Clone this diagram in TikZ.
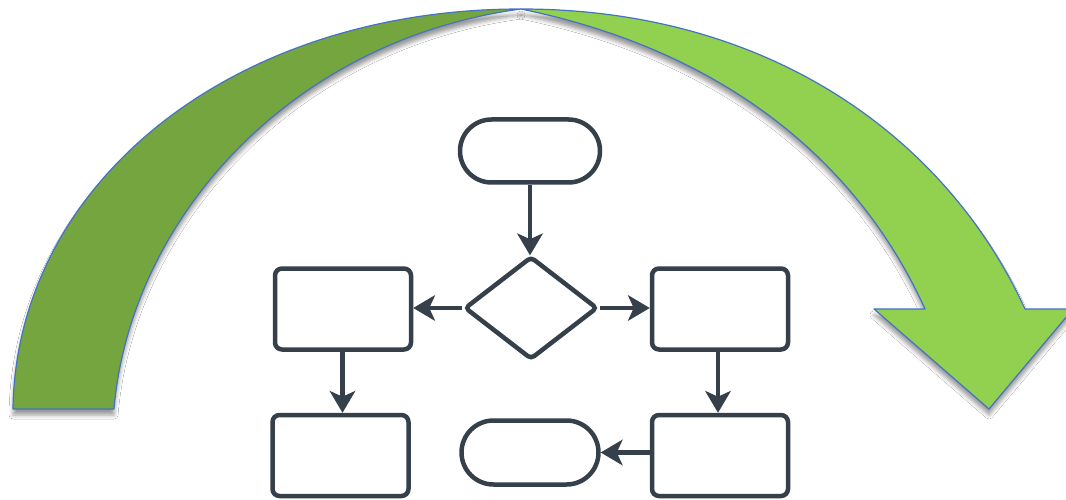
\documentclass[tikz,border=0pt]{standalone}
\usetikzlibrary{arrows.meta,shapes.geometric,shapes.misc,shadows.blur}
\definecolor{darkgreen}{HTML}{75A53F}
\definecolor{lightgreen}{HTML}{92D050}
\definecolor{edgeblue}{HTML}{4472C4}
\definecolor{ink}{HTML}{36404A}
\begin{document}
\begin{tikzpicture}[x=1pt,y=-1pt,
  band/.style={draw=edgeblue, line width=1.2pt, line join=round,
    blur shadow={shadow xshift=0pt, shadow yshift=-6pt, shadow blur radius=4pt, shadow opacity=40}},
  box/.style={draw=ink, line width=4.5pt, rounded corners=7pt, minimum width=136pt, minimum height=81pt, inner sep=0pt, fill=white},
  term/.style={draw=ink, line width=4.5pt, rounded rectangle, minimum width=140pt, minimum height=63pt, inner sep=0pt, fill=white},
  decision/.style={draw=ink, line width=4.5pt, diamond, rounded corners=4pt, minimum width=133pt, minimum height=103pt, inner sep=0pt, fill=white},
  flow/.style={draw=ink, line width=4.2pt, -{Stealth[length=22pt,width=26pt,inset=6pt,line width=1pt]}}
]
\useasboundingbox (0,0) rectangle (1066,500);
\clip (0,0) rectangle (1066,500);
\fill[white] (0,0) rectangle (1066,500);

% curved arrow
\path[band, fill=darkgreen] (13,409) .. controls (16,185) and (230,9) .. (521,9)
  .. controls (290,40) and (130,220) .. (114,409) -- cycle;
\path[band, fill=lightgreen] (521,9) .. controls (771,9) and (947,139) .. (1025,309)
  -- (1073,309) -- (989,409) -- (874,309) -- (925,309)
  .. controls (857,159) and (721,50) .. (521,9) -- cycle;

% flowchart
\node[term] (start) at (530,151) {};
\node[decision] (dec) at (531,308) {};
\node[box] (l1) at (343,309) {};
\node[box] (r1) at (720,309) {};
\node[box] (l2) at (340.5,455.5) {};
\node[box] (r2) at (720,455.5) {};
\node[term, minimum width=137pt, minimum height=64pt] (stop) at (530,452.5) {};

\draw[flow] (start.south) -- ([yshift=-1pt]start.south |- dec.north);
\draw[flow] (dec.west) -- (dec.west -| l1.east);
\draw[flow] (dec.east) -- (dec.east -| r1.west);
\draw[flow] ([xshift=-0.5pt]l1.south) -- ([xshift=-0.5pt]l1.south |- l2.north);
\draw[flow] ([xshift=-2pt]r1.south) -- ([xshift=-2pt]r1.south |- r2.north);
\draw[flow] (r2.west |- stop.east) -- (stop.east);
\end{tikzpicture}
\end{document}
